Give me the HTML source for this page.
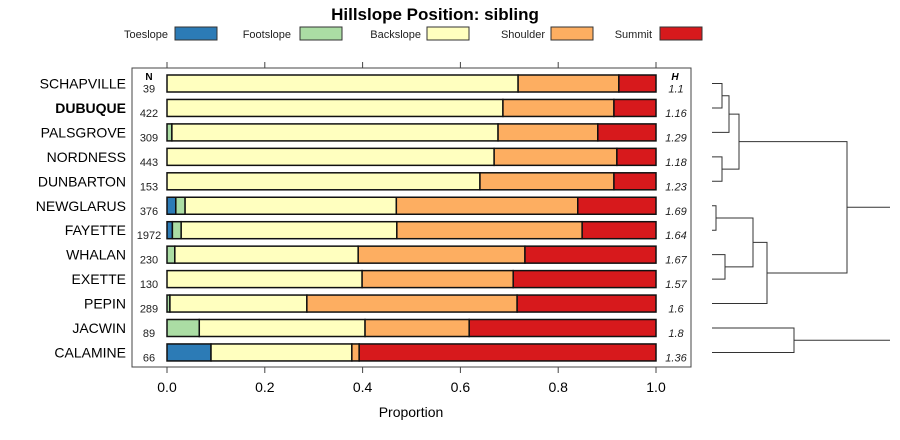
<!DOCTYPE html>
<html><head><meta charset="utf-8"><style>
html,body{margin:0;padding:0;background:#fff;}
svg{display:block;font-family:"Liberation Sans",sans-serif;}
</style></head><body>
<svg id="chart" width="900" height="440" viewBox="0 0 900 440" xmlns="http://www.w3.org/2000/svg">
<text x="435" y="20" text-anchor="middle" font-size="17" font-weight="bold">Hillslope Position: sibling</text>
<g id="legend"></g>
<rect x="132" y="68" width="559" height="299" fill="none" stroke="#444" stroke-width="1"/>
<g id="bars"></g>
<g id="axis"></g>
<text x="411" y="417" text-anchor="middle" font-size="14">Proportion</text>
<text x="149" y="80" text-anchor="middle" font-size="10" font-weight="bold">N</text>
<text x="675" y="80" text-anchor="middle" font-size="10" font-weight="bold" font-style="italic">H</text>
<g id="dendro" fill="none" stroke="#333" stroke-width="1"></g>
</svg>
<script>
const series = ["Toeslope","Footslope","Backslope","Shoulder","Summit"];
const colors = ["#2c7bb6","#abdda4","#ffffbf","#fdae61","#d7191c"];
const names = ["SCHAPVILLE","DUBUQUE","PALSGROVE","NORDNESS","DUNBARTON","NEWGLARUS","FAYETTE","WHALAN","EXETTE","PEPIN","JACWIN","CALAMINE"];
const nVals = ["39","422","309","443","153","376","1972","230","130","289","89","66"];
const hVals = ["1.1","1.16","1.29","1.18","1.23","1.69","1.64","1.67","1.57","1.6","1.8","1.36"];
const toe = [0,0,0,0,0,0.018,0.011,0,0,0,0,0.09];
const foot = [0,0,0.01,0,0,0.019,0.018,0.016,0,0.006,0.066,0];
const back = [0.718,0.687,0.667,0.669,0.640,0.432,0.441,0.375,0.399,0.280,0.339,0.288];
const shoulder = [0.206,0.227,0.204,0.251,0.274,0.371,0.379,0.341,0.309,0.430,0.213,0.015];
const summit = [0.076,0.086,0.119,0.080,0.086,0.160,0.151,0.268,0.292,0.284,0.382,0.607];
const ticks = [0,0.2,0.4,0.6,0.8,1.0];
const tickLabels = ["0.0","0.2","0.4","0.6","0.8","1.0"];
const NS="http://www.w3.org/2000/svg";
const X0=167,X1=656;
function xs(v){return X0+(X1-X0)*v;}
function ys(i){return 83.5+i*24.45;}
function mk(tag,attrs,parent){const e=document.createElementNS(NS,tag);for(const k in attrs)e.setAttribute(k,attrs[k]);parent.appendChild(e);return e;}
// legend
const lg=document.getElementById('legend');
const legTextX=[168,291,421,545,652], legBoxX=[175,300,427,551,660];
series.forEach((s,i)=>{
 const t=mk('text',{x:legTextX[i],y:38,'text-anchor':'end','font-size':'11',fill:'#222'},lg);
 t.textContent=s;
 
 
 const r=mk('rect',{x:legBoxX[i],y:27,width:42,height:13,fill:colors[i],stroke:'#333'},lg);
 
 
});
// bars
const bg=document.getElementById('bars');
const data=[toe,foot,back,shoulder,summit];
names.forEach((nm,i)=>{
 const y=ys(i);
 let cum=0;
 data.forEach((arr,k)=>{
  const v=arr[i];
  if(v>0){
   const r=mk('rect',{x:xs(cum),y:y-8.5,width:xs(cum+v)-xs(cum),height:17,fill:colors[k],stroke:'#111','stroke-width':1.5},bg);
   
   
  }
  cum+=v;
 });
 const l=mk('text',{x:126,y:y+5,'text-anchor':'end','font-size':'14','font-weight':nm==='DUBUQUE'?'bold':'normal'},bg);
 l.textContent=nm;
 
 
 const n=mk('text',{x:149,y:y+9,'text-anchor':'middle','font-size':'11',fill:'#222'},bg);
 n.textContent=nVals[i];
 
 
 const h=mk('text',{x:676,y:y+9,'text-anchor':'middle','font-size':'11','font-style':'italic',fill:'#222'},bg);
 h.textContent=hVals[i];
 
 
});
// axis
const ax=document.getElementById('axis');
ticks.forEach((t,i)=>{
 mk('line',{x1:xs(t),x2:xs(t),y1:367,y2:373,stroke:'#444'},ax);
 mk('line',{x1:xs(t),x2:xs(t),y1:62,y2:68,stroke:'#444'},ax);
 const tx=mk('text',{x:xs(t),y:392,'text-anchor':'middle','font-size':'14'},ax);
 tx.textContent=tickLabels[i];
 
 
});
// dendrogram
const dg=document.getElementById('dendro');
const L=712;
function seg(pts){mk('polyline',{points:pts.map(p=>p.join(',')).join(' ')},dg);}
function join(y1,x1,y2,x2,h){seg([[x1,y1],[h,y1],[h,y2],[x2,y2]]);return (y1+y2)/2;}
let a=join(ys(0),L,ys(1),L,722);
let b=join(a,722,ys(2),L,729);
let c=join(ys(3),L,ys(4),L,722);
let A=join(b,729,c,722,739);
let d=join(ys(5),L,ys(6),L,716);
let e=join(ys(7),L,ys(8),L,725);
let f=join(d,716,e,725,753);
let B=join(f,753,ys(9),L,767);
let R=join(A,739,B,767,847);
seg([[847,R],[890,R]]);
let g=join(ys(10),L,ys(11),L,794);
seg([[794,g],[890,g]]);
</script>
</body></html>
